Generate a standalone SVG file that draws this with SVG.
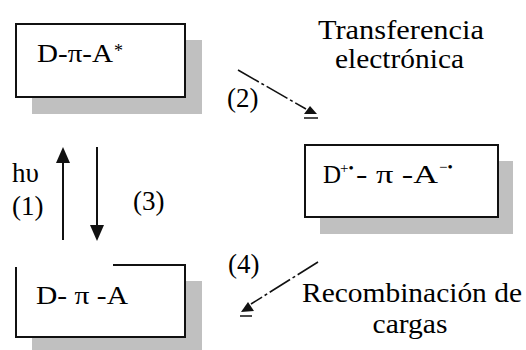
<svg xmlns="http://www.w3.org/2000/svg" width="526" height="350" viewBox="0 0 526 350">
<rect width="526" height="350" fill="#fff"/>
<g id="node-excited">
<rect x="32" y="40" width="170" height="74" fill="#c0c0c0"/>
<rect x="16" y="24" width="169" height="73" fill="#fff" stroke="#111" stroke-width="2"/>
<text x="37" y="62" font-size="25" font-family="Liberation Serif" textLength="76" lengthAdjust="spacingAndGlyphs">D-π-A</text>
<text x="114" y="57" font-size="18" font-family="Liberation Serif">*</text>
</g>
<g id="node-charge-separated">
<rect x="320" y="161" width="193" height="73" fill="#c0c0c0"/>
<rect x="305" y="145" width="193" height="72" fill="#fff" stroke="#111" stroke-width="2"/>
<text x="323" y="183" font-size="25" font-family="Liberation Serif">D</text>
<text x="340" y="173" font-size="15" font-family="Liberation Serif">+•</text>
<text x="356" y="183" font-size="25" font-family="Liberation Serif" textLength="82" lengthAdjust="spacingAndGlyphs">- π -A</text>
<text x="439" y="172" font-size="15" font-family="Liberation Serif">−•</text>
</g>
<g id="node-ground">
<rect x="32" y="281" width="170" height="69" fill="#c0c0c0"/>
<rect x="16" y="265" width="169" height="72" fill="#fff"/>
<path d="M113,265 H185 V337 H16 V267" fill="none" stroke="#111" stroke-width="2"/>
<text x="36" y="304" font-size="25" font-family="Liberation Serif" textLength="92" lengthAdjust="spacingAndGlyphs">D- π -A</text>
</g>
<g id="connectors" stroke="#111" stroke-width="2" fill="none">
<path d="M63,240 V160"/>
<path d="M63,147 L56,163 L70,163 Z" fill="#111" stroke="none"/>
<path d="M97,147 V228"/>
<path d="M97,241 L90,225 L104,225 Z" fill="#111" stroke="none"/>
<path d="M238,70 L306,109" stroke-width="1.6" stroke-dasharray="24 3 3 3"/>
<path d="M310,106 L304,114 L317,114 Z" fill="#111" stroke="none"/>
<path d="M304,118 H318" stroke-width="1.5"/>
<path d="M318,262 L251,304" stroke-width="1.6" stroke-dasharray="24 3 3 3"/>
<path d="M248,302 L241,312 L254,311 Z" fill="#111" stroke="none"/>
<path d="M240,316 H252" stroke-width="1.5"/>
</g>
<g id="labels">
<text x="401" y="39" font-size="28" font-family="Liberation Serif" text-anchor="middle" textLength="166" lengthAdjust="spacingAndGlyphs">Transferencia</text>
<text x="399.5" y="68" font-size="28" font-family="Liberation Serif" text-anchor="middle" textLength="129" lengthAdjust="spacingAndGlyphs">electrónica</text>
<text x="227" y="107" font-size="27" font-family="Liberation Serif">(2)</text>
<text x="12" y="182" font-size="27" font-family="Liberation Serif">hυ</text>
<text x="12" y="215" font-size="27" font-family="Liberation Serif">(1)</text>
<text x="133" y="210" font-size="27" font-family="Liberation Serif">(3)</text>
<text x="228" y="273" font-size="27" font-family="Liberation Serif">(4)</text>
<text x="302" y="302" font-size="28" font-family="Liberation Serif" textLength="220" lengthAdjust="spacingAndGlyphs">Recombinación de</text>
<text x="410" y="333" font-size="28" font-family="Liberation Serif" text-anchor="middle" textLength="75" lengthAdjust="spacingAndGlyphs">cargas</text>
</g>
</svg>
